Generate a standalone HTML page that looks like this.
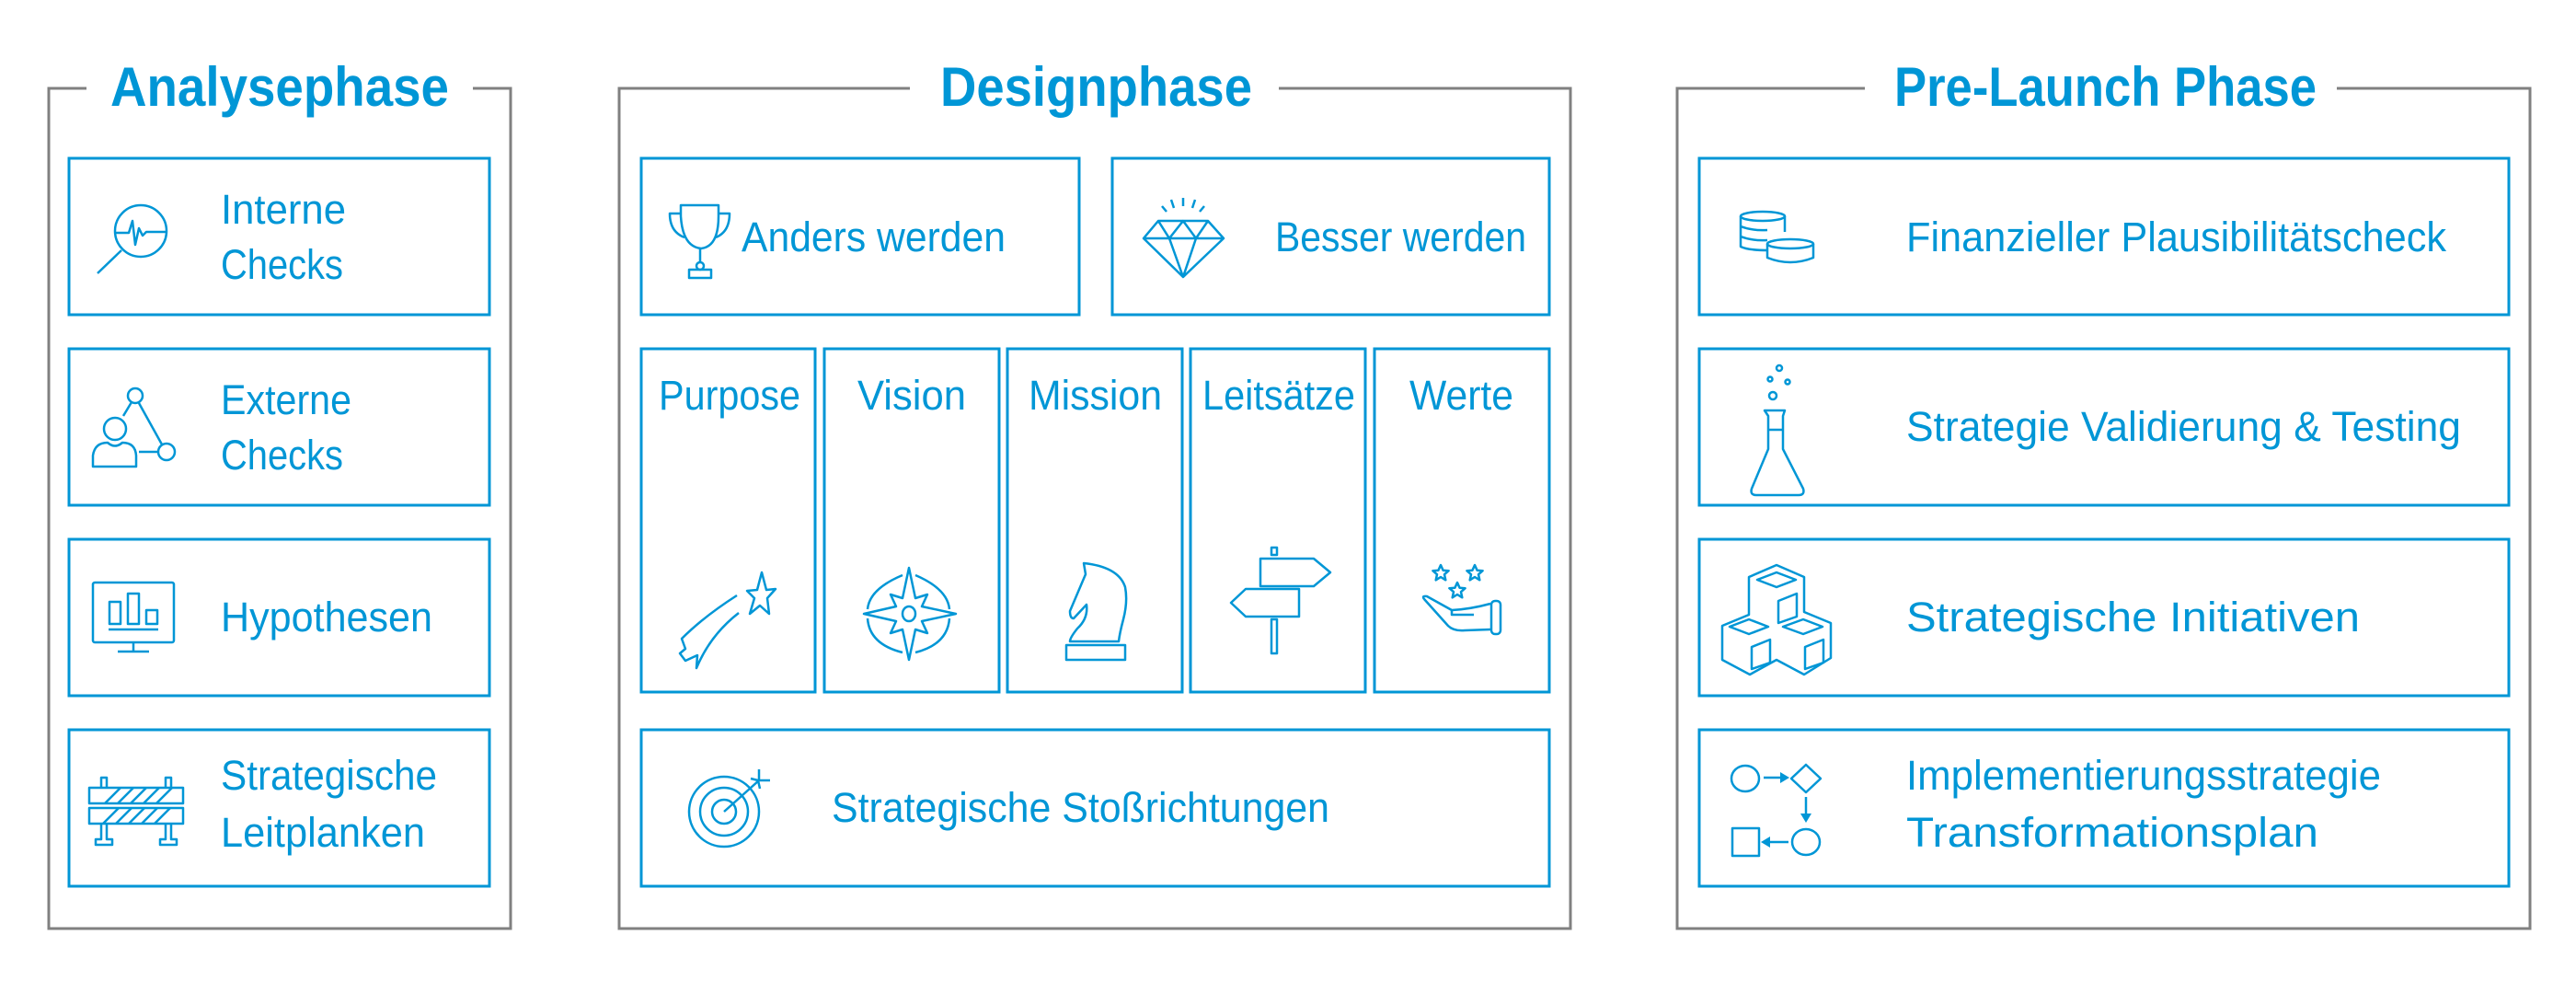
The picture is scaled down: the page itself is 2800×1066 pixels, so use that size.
<!DOCTYPE html>
<html><head><meta charset="utf-8"><style>
html,body{margin:0;padding:0;background:#fff;width:2800px;height:1066px;overflow:hidden}
svg{display:block}
text{font-family:"Liberation Sans",sans-serif;fill:#0096d6}
</style></head><body>
<svg width="2800" height="1066" viewBox="0 0 2800 1066" xmlns="http://www.w3.org/2000/svg">
<defs>
<path id="star" d="M0,-9 L2.6,-3.2 L8.6,-2.8 L4,1.2 L5.3,7.3 L0,4 L-5.3,7.3 L-4,1.2 L-8.6,-2.8 L-2.6,-3.2 Z"/>
</defs>
<g fill="none" stroke="#808080" stroke-width="3">
<polyline points="94,96 53,96 53,1009 555,1009 555,96 514,96"/>
<polyline points="989,96 673,96 673,1009 1707,1009 1707,96 1390,96"/>
<polyline points="2027,96 1823,96 1823,1009 2750,1009 2750,96 2540,96"/>
</g>
<g font-weight="bold" font-size="60">
<text x="120" y="115" textLength="368" lengthAdjust="spacingAndGlyphs">Analysephase</text>
<text x="1022" y="115" textLength="339" lengthAdjust="spacingAndGlyphs">Designphase</text>
<text x="2059" y="115" textLength="459" lengthAdjust="spacingAndGlyphs">Pre-Launch Phase</text>
</g>
<g fill="none" stroke="#0096d6" stroke-width="3">
<rect x="75" y="172" width="457" height="170"/>
<rect x="75" y="379" width="457" height="170"/>
<rect x="75" y="586" width="457" height="170"/>
<rect x="75" y="793" width="457" height="170"/>
<rect x="697" y="172" width="476" height="170"/>
<rect x="1209" y="172" width="475" height="170"/>
<rect x="697" y="379" width="189" height="373"/>
<rect x="896" y="379" width="190" height="373"/>
<rect x="1095" y="379" width="190" height="373"/>
<rect x="1294" y="379" width="190" height="373"/>
<rect x="1494" y="379" width="190" height="373"/>
<rect x="697" y="793" width="987" height="170"/>
<rect x="1847" y="172" width="880" height="170"/>
<rect x="1847" y="379" width="880" height="170"/>
<rect x="1847" y="586" width="880" height="170"/>
<rect x="1847" y="793" width="880" height="170"/>
</g>
<g font-size="45">
<text x="240" y="243" textLength="136" lengthAdjust="spacingAndGlyphs">Interne</text>
<text x="240" y="303" textLength="133" lengthAdjust="spacingAndGlyphs">Checks</text>
<text x="240" y="450" textLength="142" lengthAdjust="spacingAndGlyphs">Externe</text>
<text x="240" y="510" textLength="133" lengthAdjust="spacingAndGlyphs">Checks</text>
<text x="240" y="686" textLength="230" lengthAdjust="spacingAndGlyphs">Hypothesen</text>
<text x="240" y="858" textLength="235" lengthAdjust="spacingAndGlyphs">Strategische</text>
<text x="240" y="920" textLength="222" lengthAdjust="spacingAndGlyphs">Leitplanken</text>
<text x="806" y="273" textLength="287" lengthAdjust="spacingAndGlyphs">Anders werden</text>
<text x="1386" y="273" textLength="273" lengthAdjust="spacingAndGlyphs">Besser werden</text>
<text x="716" y="445" textLength="154" lengthAdjust="spacingAndGlyphs">Purpose</text>
<text x="932" y="445" textLength="118" lengthAdjust="spacingAndGlyphs">Vision</text>
<text x="1118" y="445" textLength="145" lengthAdjust="spacingAndGlyphs">Mission</text>
<text x="1307" y="445" textLength="166" lengthAdjust="spacingAndGlyphs">Leitsätze</text>
<text x="1532" y="445" textLength="113" lengthAdjust="spacingAndGlyphs">Werte</text>
<text x="904" y="893" textLength="541" lengthAdjust="spacingAndGlyphs">Strategische Stoßrichtungen</text>
<text x="2072" y="273" textLength="587" lengthAdjust="spacingAndGlyphs">Finanzieller Plausibilitätscheck</text>
<text x="2072" y="479" textLength="603" lengthAdjust="spacingAndGlyphs">Strategie Validierung &amp; Testing</text>
<text x="2072" y="686" textLength="493" lengthAdjust="spacingAndGlyphs">Strategische Initiativen</text>
<text x="2072" y="858" textLength="516" lengthAdjust="spacingAndGlyphs">Implementierungsstrategie</text>
<text x="2072" y="920" textLength="448" lengthAdjust="spacingAndGlyphs">Transformationsplan</text>
</g>
<g fill="none" stroke="#0096d6" stroke-width="2.5" stroke-linejoin="round">
<!-- magnifier -->
<ellipse cx="153" cy="251" rx="28" ry="28"/>
<line x1="132" y1="272" x2="106" y2="297"/>
<polyline points="125,253 140,253 144,240 147,266 151,248 155,256 159,252 181,252"/>
<!-- externe -->
<circle cx="147" cy="430" r="8"/>
<circle cx="125" cy="466" r="12"/>
<path d="M101,507 L101,495 Q103,481 117,481 Q125,488 133,481 Q147,481 148,495 L148,507 Z"/>
<circle cx="181" cy="491" r="9"/>
<line x1="143" y1="437" x2="134" y2="452"/><line x1="151" y1="438" x2="176" y2="483"/><line x1="151" y1="491" x2="172" y2="491"/>
<!-- monitor -->
<rect x="101" y="633" width="88" height="65" rx="2"/>
<line x1="145" y1="698" x2="145" y2="708"/><line x1="128" y1="708" x2="162" y2="708"/>
<rect x="119" y="654" width="12" height="24"/><rect x="139" y="645" width="12" height="33"/><rect x="159" y="663" width="12" height="15"/>
<line x1="118" y1="684" x2="172" y2="684"/>
<!-- barrier -->
<rect x="97" y="856" width="102" height="17"/><rect x="97" y="878" width="102" height="17"/>
<polyline points="110,856 110,845 116,845 116,856"/><polyline points="180,856 180,845 186,845 186,856"/>
<polyline points="110,895 110,912 104,912 104,918 122,918 122,912 116,912 116,895"/>
<polyline points="180,895 180,912 174,912 174,918 192,918 192,912 186,912 186,895"/>
<path d="M114,873 L131,856 M128,873 L145,856 M142,873 L159,856 M156,873 L173,856 M170,873 L187,856 M112,895 L129,878 M126,895 L143,878 M140,895 L157,878 M154,895 L171,878 M168,895 L185,878"/>
<!-- trophy -->
<path d="M740,223 L781,223 L781,235 Q781,268 762,270 Q742,268 740,235 Z"/>
<path d="M740,232 L728,232 Q728,252 744,258 M781,232 L793,232 Q793,252 778,258"/>
<line x1="761" y1="270" x2="761" y2="286"/><circle cx="761" cy="289" r="4"/><rect x="749" y="293" width="24" height="9"/>
<!-- diamond -->
<path d="M1243,259 L1259,240 L1313,240 L1330,259 L1286,301 Z M1243,259 L1330,259 M1259,240 L1271,259 L1286,240 L1300,259 L1313,240 M1271,259 L1286,301 L1300,259"/>
<path d="M1263,224 L1268,230 M1273,217 L1276,226 M1286,215 L1286,224 M1299,217 L1296,226 M1309,224 L1304,230"/>
<!-- shooting star -->
<path d="M843,640 L833,641 L828,622 L823,641 L812,642 L820,650 L815,667 L826,658 L836,667 L834,650 Z"/>
<path d="M801,647 Q765,670 741,694 L745,705 L739,710 L745,718 L758,712 L757,726 Q772,690 803,666"/>
<!-- compass -->
<path d="M988,617 L995,650 L1008,646 L1002,659 L1039,667 L1002,675 L1008,688 L995,684 L988,717 L981,684 L968,688 L974,675 L939,667 L974,659 L968,646 L981,650 Z"/>
<ellipse cx="988" cy="667" rx="7" ry="8"/>
<path d="M995,625 Q1030,640 1032,662 M1032,672 Q1030,700 995,709 M981,709 Q945,700 943,672 M943,662 Q945,640 981,625"/>
<!-- knight -->
<path d="M1178,612 L1180,624 L1163,664 Q1163,672 1167,672 L1181,657 Q1183,672 1171,683 Q1163,693 1163,697 L1216,697 Q1217,688 1221,673 Q1226,654 1223,638 Q1216,616 1178,612 Z"/>
<rect x="1159" y="701" width="64" height="16"/>
<!-- signpost -->
<rect x="1382" y="595" width="6" height="8"/>
<path d="M1370,607 L1428,607 L1446,622 L1428,637 L1370,637 Z"/>
<path d="M1412,640 L1354,640 L1338,655 L1354,670 L1412,670 Z"/>
<rect x="1382" y="673" width="6" height="37"/>
<!-- hand -->
<use href="#star" x="1566" y="623"/>
<use href="#star" x="1603" y="623"/>
<use href="#star" x="1584" y="642"/>
<path d="M1548,651 Q1545,647 1551,648 L1578,663 Q1598,662 1620,656 M1548,651 L1574,680 Q1580,686 1592,685 L1620,684"/>
<path d="M1578,663 L1578,668 L1602,668"/>
<rect x="1621" y="653" width="10" height="36" rx="4"/>
<!-- target -->
<circle cx="787" cy="882" r="38"/><circle cx="787" cy="882" r="26"/><circle cx="787" cy="882" r="13"/>
<path d="M787,882 L825,848 M816,846 L824,848 L826,857 M825,836 L825,848 L837,848"/>
<!-- coins -->
<ellipse cx="1916" cy="235" rx="24" ry="5"/>
<path d="M1892,235 L1892,268 Q1900,272 1922,272 M1940,235 L1940,252 M1892,246 Q1905,251 1921,250 M1892,257 Q1905,262 1921,261"/>
<ellipse cx="1946" cy="265" rx="25" ry="5"/>
<path d="M1921,265 L1921,280 Q1946,290 1971,280 L1971,265"/>
<!-- flask -->
<circle cx="1934" cy="400" r="3"/><circle cx="1924" cy="412" r="2.5"/><circle cx="1943" cy="415" r="2.5"/><circle cx="1927" cy="430" r="4"/>
<path d="M1918,446 L1940,446 L1938,452 L1938,488 L1960,531 Q1962,538 1955,538 L1909,538 Q1902,538 1904,531 L1922,488 L1922,452 Z M1922,467 L1938,467"/>
<!-- cubes -->
<path d="M1931,614 L1961,627 L1961,665 L1990,677 L1990,715 L1961,733 L1931,717 L1902,733 L1872,717 L1872,680 L1901,668 L1901,627 Z"/>
<path d="M1910,630 L1931,622 L1952,630 L1931,638 Z M1933,653 L1953,645 L1953,670 L1933,677 Z"/>
<path d="M1880,681 L1901,673 L1922,681 L1901,689 Z M1904,703 L1924,695 L1924,720 L1904,727 Z"/>
<path d="M1938,681 L1960,673 L1981,681 L1960,689 Z M1962,703 L1982,695 L1982,720 L1962,727 Z"/>
<!-- flow -->
<ellipse cx="1897" cy="846" rx="15" ry="14"/>
<line x1="1917" y1="845" x2="1936" y2="845"/>
<path d="M1947,846 L1963,831 L1979,846 L1963,861 Z"/>
<line x1="1963" y1="866" x2="1963" y2="885"/>
<ellipse cx="1963" cy="915" rx="15" ry="14"/>
<line x1="1944" y1="915" x2="1923" y2="915"/>
<rect x="1883" y="900" width="29" height="30"/>
</g>
<g fill="#0096d6">
<path d="M1945,845 L1935,839 L1935,851 Z"/>
<path d="M1963,894 L1957,884 L1969,884 Z"/>
<path d="M1914,915 L1924,909 L1924,921 Z"/>
</g>
</svg>
</body></html>
